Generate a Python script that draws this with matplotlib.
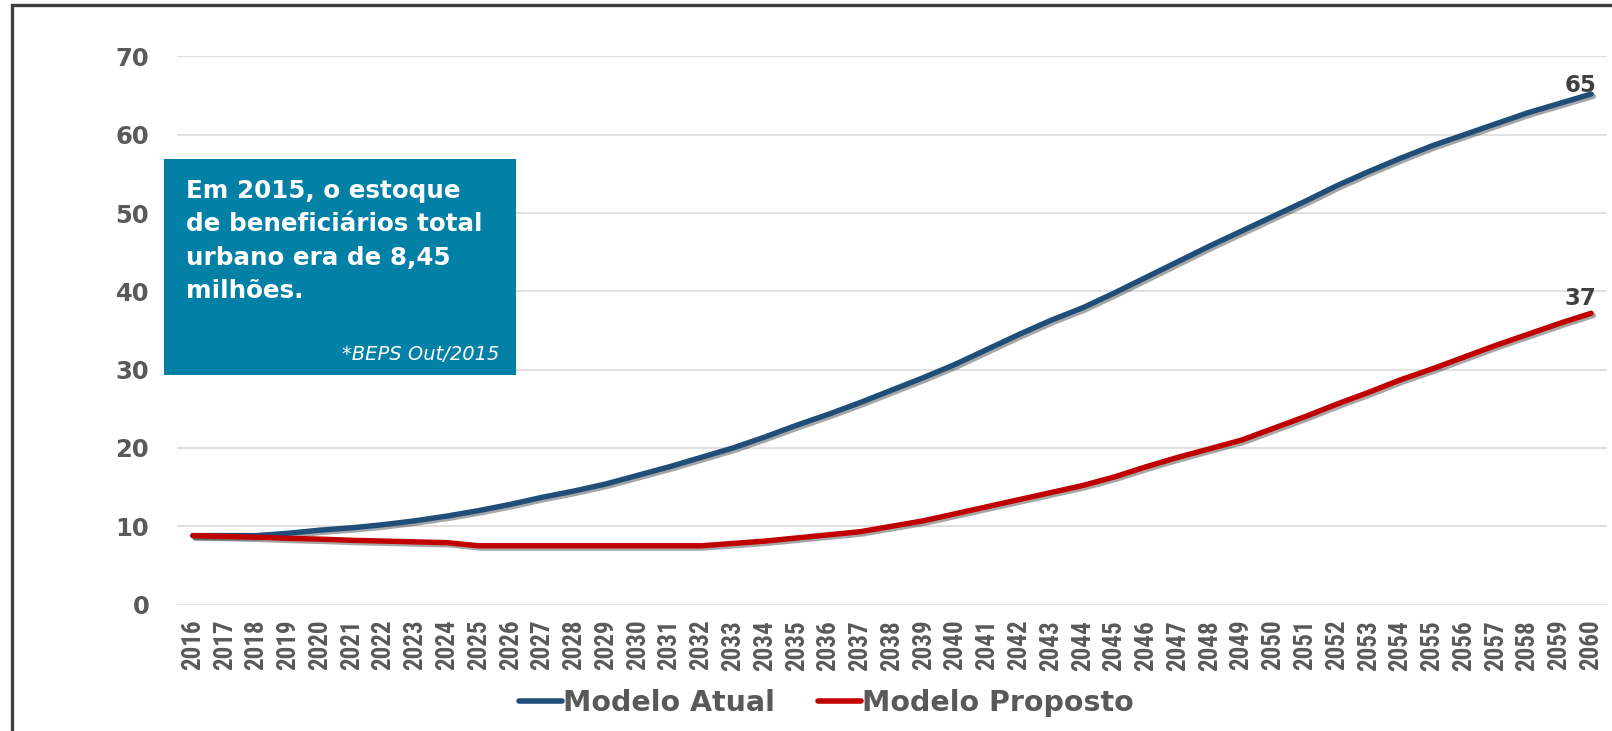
import matplotlib
matplotlib.use("Agg")
import matplotlib.pyplot as plt
import matplotlib.patheffects as pe
from matplotlib.patches import Rectangle
from matplotlib import font_manager as fm

# ---------------- data ----------------
years = list(range(2016, 2061))
modelo_atual = [8.8, 8.8, 8.8, 9.1, 9.5, 9.8, 10.2, 10.7, 11.3, 12.0,
                12.8, 13.7, 14.5, 15.4, 16.5, 17.6, 18.8, 20.0, 21.4, 22.9,
                24.3, 25.8, 27.4, 29.0, 30.7, 32.6, 34.5, 36.3, 37.9, 39.8,
                41.8, 43.8, 45.8, 47.7, 49.6, 51.5, 53.5, 55.3, 57.0, 58.6,
                60.0, 61.4, 62.8, 64.0, 65.2]
modelo_proposto = [8.8, 8.7, 8.6, 8.45, 8.35, 8.2, 8.1, 8.0, 7.9, 7.5,
                   7.5, 7.5, 7.5, 7.5, 7.5, 7.5, 7.5, 7.8, 8.1, 8.5,
                   8.9, 9.3, 10.0, 10.7, 11.6, 12.5, 13.4, 14.3, 15.2, 16.3,
                   17.6, 18.8, 19.9, 21.0, 22.5, 24.0, 25.6, 27.1, 28.7, 30.1,
                   31.6, 33.1, 34.5, 35.9, 37.2]
series_names = ["Modelo Atual", "Modelo Proposto"]
yticks = [0, 10, 20, 30, 40, 50, 60, 70]
box_lines = ["Em 2015, o estoque", "de beneficiários total",
             "urbano era de 8,45", "milhões."]
box_source = "*BEPS Out/2015"

# ---------------- style ----------------
W, H = 1612, 731
fig = plt.figure(figsize=(W / 100, H / 100), dpi=100)
fig.patch.set_facecolor("white")

names = {f.name for f in fm.fontManager.ttflist}
xfam, xsize, xstretch = "DejaVu Sans", 15, "condensed"
for cand, size in [("Liberation Sans Narrow", 19), ("Roboto Condensed", 18),
                   ("Open Sans Condensed", 18)]:
    if cand in names:
        xfam, xsize, xstretch = cand, size, "normal"
        break

TICK = "#595959"
BLUE = "#1F4E79"
RED = "#C00000"

def fx(px):
    return px / W

def fy(py):
    return 1 - py / H

ax = fig.add_axes([fx(177), fy(604.5), (1607 - 177) / W, (604.5 - 56.5) / H])
x = list(range(len(years)))

shadow = [pe.SimpleLineShadow(offset=(1.6, -1.6), shadow_color="black", alpha=0.35),
          pe.Normal()]
for vals, col, name in [(modelo_atual, BLUE, series_names[0]),
                        (modelo_proposto, RED, series_names[1])]:
    ax.plot(x, vals, color=col, lw=3.9, solid_capstyle="round",
            solid_joinstyle="round", label=name, path_effects=shadow,
            clip_on=False, zorder=3)

# end labels
for vals, dy in [(modelo_atual, 2.5), (modelo_proposto, 8)]:
    ax.annotate(f"{round(vals[-1])}", xy=(x[-1], vals[-1]),
                xytext=(-11, dy), textcoords="offset pixels",
                ha="center", va="baseline", fontsize=16.5, fontweight="bold",
                color="#404040", family="DejaVu Sans", zorder=5)

ax.set_xlim(-0.5, len(years) - 0.5)
ax.set_ylim(0, 70)
ax.set_yticks(yticks)
ax.set_yticklabels([str(v) for v in yticks], fontsize=17.5, fontweight="bold",
                   color=TICK, family="DejaVu Sans")
ax.set_xticks(x)
ax.set_xticklabels([str(y) for y in years], rotation=90, fontsize=xsize,
                   fontweight="bold", color=TICK, family=xfam,
                   fontstretch=xstretch, va="top", ha="center")
ax.tick_params(axis="y", length=0, pad=20)
ax.tick_params(axis="x", length=0, pad=11)
ax.grid(axis="y", color="#D9D9D9", lw=1.1)
ax.set_axisbelow(True)
for s in ax.spines.values():
    s.set_visible(False)
ax.set_facecolor("none")

# legend
leg = fig.legend(loc="center", bbox_to_anchor=(fx(826.5), fy(703)), ncol=2,
                 frameon=False, handlelength=1.5, handletextpad=0.05,
                 columnspacing=1.5,
                 prop={"family": "DejaVu Sans", "weight": "bold", "size": 20.5})
for t in leg.get_texts():
    t.set_color(TICK)
for h in leg.legend_handles:
    h.set_linewidth(4)
    h.set_path_effects([])

# info box
fig.add_artist(Rectangle((fx(164), fy(375)), (516 - 164) / W, (375 - 159) / H,
                         transform=fig.transFigure, facecolor="#0380A6",
                         edgecolor="none", zorder=4))
baselines = [198.3, 231.3, 264.7, 298.0]
for line, by in zip(box_lines, baselines):
    fig.text(fx(186), fy(by), line, ha="left", va="baseline", color="white",
             fontsize=17.7, fontweight="bold", family="DejaVu Sans", zorder=5)
fig.text(fx(499), fy(360), box_source, ha="right", va="baseline", color="white",
         fontsize=14, fontstyle="italic", family="DejaVu Sans", zorder=5)

# outer frame
fig.add_artist(Rectangle((fx(12), -0.1), 1.2, fy(5) + 0.1,
                         transform=fig.transFigure, fill=False,
                         edgecolor="#404040", lw=2.4, clip_on=False))

fig.savefig("out.png", dpi=100, facecolor="white")
